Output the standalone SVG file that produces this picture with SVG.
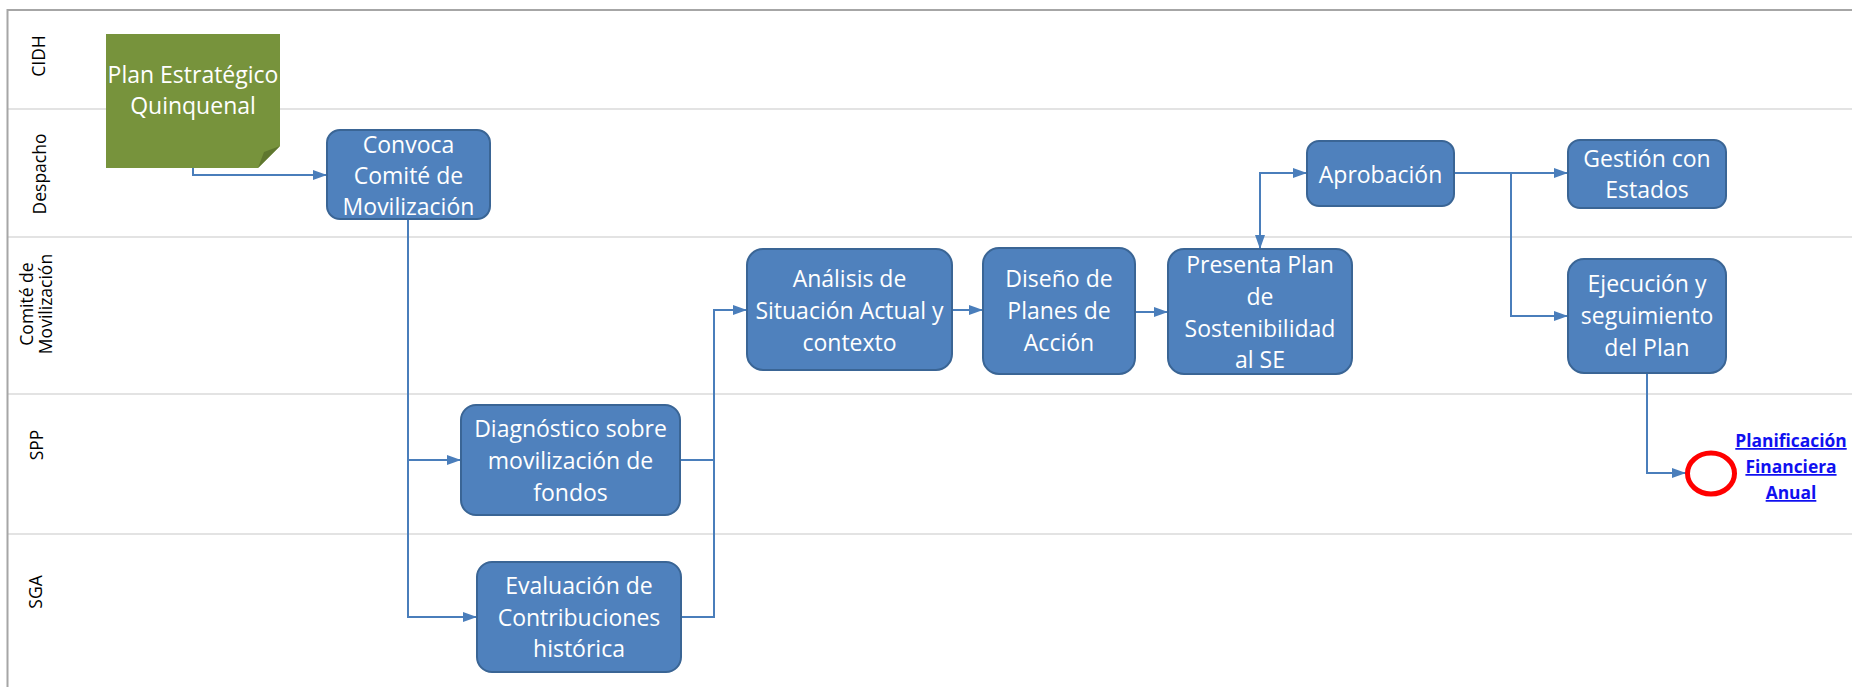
<svg xmlns="http://www.w3.org/2000/svg" width="1852" height="687" viewBox="0 0 1852 687">
<style>
.lane{stroke:#e3e3e3;stroke-width:2;fill:none}
.border{stroke:#a6a6a6;stroke-width:2;fill:none}
.lbl{font-family:"Open Sans","Noto Sans",sans-serif;font-size:17.5px;fill:#000;text-anchor:middle}
.box{fill:#4f81bd;stroke:#3a6595;stroke-width:2}
.bt{font-family:"Open Sans","Noto Sans",sans-serif;font-size:23px;fill:#fff;text-anchor:middle}
.con{stroke:#4a7ebb;stroke-width:2;fill:none}
.link{font-family:"Open Sans","Noto Sans",sans-serif;font-size:17.4px;font-weight:bold;fill:#1010f0;text-anchor:middle;text-decoration:underline}
</style>
<defs>
<marker id="arr" markerUnits="userSpaceOnUse" viewBox="0 0 14 10" refX="14" refY="5" markerWidth="14" markerHeight="10" orient="auto-start-reverse">
<path d="M0,0 L14,5 L0,10 z" fill="#4a7ebb"/>
</marker>
</defs>
<rect x="0" y="0" width="1852" height="687" fill="#fff"/>
<g id="lanes">
<line class="lane" x1="8" y1="109" x2="1852" y2="109"/>
<line class="lane" x1="8" y1="237" x2="1852" y2="237"/>
<line class="lane" x1="8" y1="394" x2="1852" y2="394"/>
<line class="lane" x1="8" y1="534" x2="1852" y2="534"/>
<path class="border" d="M7.5,687 V10 H1852"/>
<text class="lbl" transform="translate(45,56) rotate(-90)">CIDH</text>
<text class="lbl" transform="translate(46,174) rotate(-90)">Despacho</text>
<text class="lbl" transform="translate(33,304) rotate(-90)">Comité de</text>
<text class="lbl" transform="translate(52,304) rotate(-90)">Movilización</text>
<text class="lbl" transform="translate(43,445) rotate(-90)">SPP</text>
<text class="lbl" transform="translate(42,592) rotate(-90)">SGA</text>
</g>
<g id="connectors">
<path class="con" d="M193,168 V175 H327" marker-end="url(#arr)"/>
<path class="con" d="M408,219 V617 H477" marker-end="url(#arr)"/>
<path class="con" d="M408,460 H461" marker-end="url(#arr)"/>
<path class="con" d="M680,460 H714"/>
<path class="con" d="M681,617 H714 V310 H747" marker-end="url(#arr)"/>
<path class="con" d="M952,310 H983" marker-end="url(#arr)"/>
<path class="con" d="M1135,312 H1168" marker-end="url(#arr)"/>
<path class="con" d="M1260,249 V173 H1307" marker-start="url(#arr)" marker-end="url(#arr)"/>
<path class="con" d="M1454,173 H1568" marker-end="url(#arr)"/>
<path class="con" d="M1511,173 V316 H1568" marker-end="url(#arr)"/>
<path class="con" d="M1647,373 V473 H1686" marker-end="url(#arr)"/>
</g>
<g id="plan-estrategico">
<path d="M106,34 H280 V146 L258,168 H106 Z" fill="#77933c"/>
<path d="M258,168 L264,152 L280,146 Z" fill="#5f772f"/>
<text class="bt" x="193" y="83">Plan Estratégico</text>
<text class="bt" x="193" y="114">Quinquenal</text>
</g>
<g id="convoca">
<rect class="box" x="327" y="130" width="163" height="89" rx="13"/>
<text class="bt" x="408.5" y="153">Convoca</text>
<text class="bt" x="408.5" y="184">Comité de</text>
<text class="bt" x="408.5" y="215">Movilización</text>
</g>
<g id="diagnostico">
<rect class="box" x="461" y="405" width="219" height="110" rx="15"/>
<text class="bt" x="570.5" y="437">Diagnóstico sobre</text>
<text class="bt" x="570.5" y="469">movilización de</text>
<text class="bt" x="570.5" y="501">fondos</text>
</g>
<g id="evaluacion">
<rect class="box" x="477" y="562" width="204" height="110" rx="15"/>
<text class="bt" x="579" y="594">Evaluación de</text>
<text class="bt" x="579" y="626">Contribuciones</text>
<text class="bt" x="579" y="657">histórica</text>
</g>
<g id="analisis">
<rect class="box" x="747" y="249" width="205" height="121" rx="16"/>
<text class="bt" x="849.5" y="287">Análisis de</text>
<text class="bt" x="849.5" y="319">Situación Actual y</text>
<text class="bt" x="849.5" y="351">contexto</text>
</g>
<g id="diseno">
<rect class="box" x="983" y="248" width="152" height="126" rx="16"/>
<text class="bt" x="1059" y="287">Diseño de</text>
<text class="bt" x="1059" y="319">Planes de</text>
<text class="bt" x="1059" y="351">Acción</text>
</g>
<g id="presenta">
<rect class="box" x="1168" y="249" width="184" height="125" rx="16"/>
<text class="bt" x="1260" y="273">Presenta Plan</text>
<text class="bt" x="1260" y="305">de</text>
<text class="bt" x="1260" y="337">Sostenibilidad</text>
<text class="bt" x="1260" y="368">al SE</text>
</g>
<g id="aprobacion">
<rect class="box" x="1307" y="141" width="147" height="65" rx="12"/>
<text class="bt" x="1380.5" y="183">Aprobación</text>
</g>
<g id="gestion">
<rect class="box" x="1568" y="140" width="158" height="68" rx="12"/>
<text class="bt" x="1647" y="167">Gestión con</text>
<text class="bt" x="1647" y="198">Estados</text>
</g>
<g id="ejecucion">
<rect class="box" x="1568" y="259" width="158" height="114" rx="16"/>
<text class="bt" x="1647" y="292">Ejecución y</text>
<text class="bt" x="1647" y="324">seguimiento</text>
<text class="bt" x="1647" y="356">del Plan</text>
</g>
<g id="fin">
<ellipse cx="1711" cy="473.5" rx="23.5" ry="20.5" fill="#fff" stroke="#ff0000" stroke-width="5"/>
<text class="link" x="1791" y="447">Planificación</text>
<text class="link" x="1791" y="473">Financiera</text>
<text class="link" x="1791" y="499">Anual</text>
</g>
</svg>
